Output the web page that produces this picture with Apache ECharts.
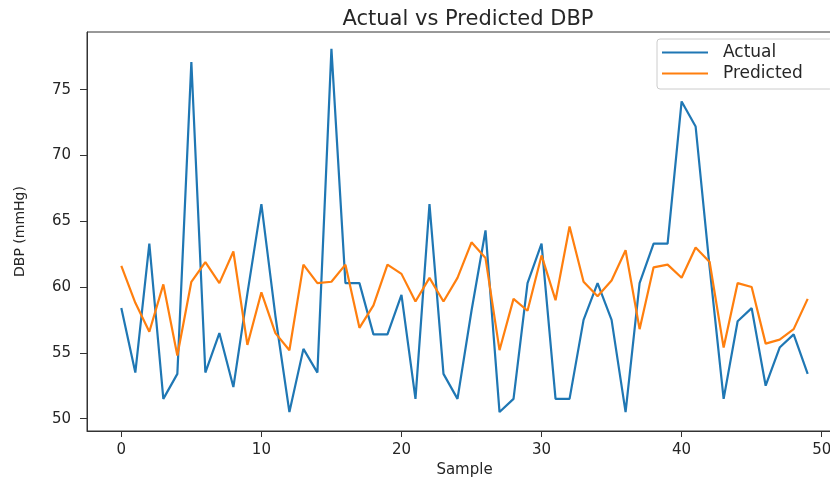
<!DOCTYPE html>
<html>
<head>
<meta charset="utf-8">
<script src="https://cdn.jsdelivr.net/npm/echarts@6/dist/echarts.min.js"></script>
<style>
  html, body { margin: 0; padding: 0; background: #fff; }
  #chart { width: 830px; height: 480px; }
</style>
</head>
<body>
<div id="chart"></div>
<script>
const samples = [0,1,2,3,4,5,6,7,8,9,10,11,12,13,14,15,16,17,18,19,20,21,22,23,24,25,26,27,28,29,30,31,32,33,34,35,36,37,38,39,40,41,42,43,44,45,46,47,48,49];
const actual = [58.4,53.5,63.3,51.5,53.4,77.1,53.5,56.5,52.4,59.5,66.3,57.8,50.5,55.3,53.5,78.1,60.3,60.3,56.4,56.4,59.4,51.5,66.3,53.4,51.5,58.2,64.3,50.5,51.5,60.3,63.3,51.5,51.5,57.5,60.3,57.5,50.5,60.3,63.3,63.3,74.1,72.2,61.5,51.5,57.4,58.4,52.5,55.4,56.4,53.4];
const predicted = [61.6,58.8,56.6,60.2,54.8,60.4,61.9,60.3,62.7,55.6,59.6,56.5,55.2,61.7,60.3,60.4,61.7,56.9,58.6,61.7,61.0,58.9,60.7,58.9,60.7,63.4,62.2,55.2,59.1,58.2,62.4,59.0,64.6,60.4,59.3,60.5,62.8,56.8,61.5,61.7,60.7,63.0,61.9,55.4,60.3,60.0,55.7,56.0,56.8,59.1];
const xTicks = [0,10,20,30,40,50];
const yTicks = [50,55,60,65,70,75];

const font = 'DejaVu Sans';
const txt = '#262626';
const chart = echarts.init(document.getElementById('chart'), null, {renderer: 'canvas'});
chart.setOption({
  animation: false,
  backgroundColor: '#ffffff',
  title: {
    text: 'Actual vs Predicted DBP',
    left: 463, top: 4, textAlign: 'center',
    textStyle: {fontFamily: font, fontSize: 21, fontWeight: 'normal', color: txt}
  },
  legend: {
    left: 657, top: 39, orient: 'vertical',
    icon: 'rect',
    itemWidth: 46, itemHeight: 2, itemGap: 4,
    padding: [5, 30, 7, 5],
    backgroundColor: 'rgba(255,255,255,0.8)', borderColor: '#cccccc', borderWidth: 1, borderRadius: 3,
    textStyle: {fontFamily: font, fontSize: 17, color: txt, padding: [0, 0, 0, 10]},
    data: ['Actual', 'Predicted']
  },
  grid: {left: 87, right: -12, top: 32, bottom: 49, show: true, borderColor: '#333', borderWidth: 1, outerBoundsMode: 'none', containLabel: false},
  xAxis: {
    type: 'value', min: -2.45, max: 51.45,
    name: 'Sample', nameLocation: 'middle', nameGap: 31,
    nameTextStyle: {fontFamily: font, fontSize: 15, color: txt},
    axisLine: {show: true, onZero: false, lineStyle: {color: '#333', width: 1}},
    axisTick: {show: true, length: 6, customValues: xTicks, lineStyle: {color: '#333'}},
    axisLabel: {customValues: xTicks, fontFamily: font, fontSize: 15, color: txt, margin: 12},
    splitLine: {show: false}
  },
  yAxis: {
    type: 'value', min: 49.06, max: 79.38,
    name: 'DBP (mmHg)', nameLocation: 'middle', nameGap: 60, nameRotate: 90,
    nameTextStyle: {fontFamily: font, fontSize: 14, color: txt},
    axisLine: {show: true, onZero: false, lineStyle: {color: '#333', width: 1}},
    axisTick: {show: true, length: 7, customValues: yTicks, lineStyle: {color: '#333'}},
    axisLabel: {customValues: yTicks, fontFamily: font, fontSize: 15, color: txt, margin: 16},
    splitLine: {show: false}
  },
  series: [
    {name: 'Actual', type: 'line', data: samples.map((s, i) => [s, actual[i]]), symbol: 'none', showSymbol: false,
     lineStyle: {color: '#1f77b4', width: 2.2}, itemStyle: {color: '#1f77b4'}},
    {name: 'Predicted', type: 'line', data: samples.map((s, i) => [s, predicted[i]]), symbol: 'none', showSymbol: false,
     lineStyle: {color: '#ff7f0e', width: 2.2}, itemStyle: {color: '#ff7f0e'}}
  ]
});
</script>
</body>
</html>
